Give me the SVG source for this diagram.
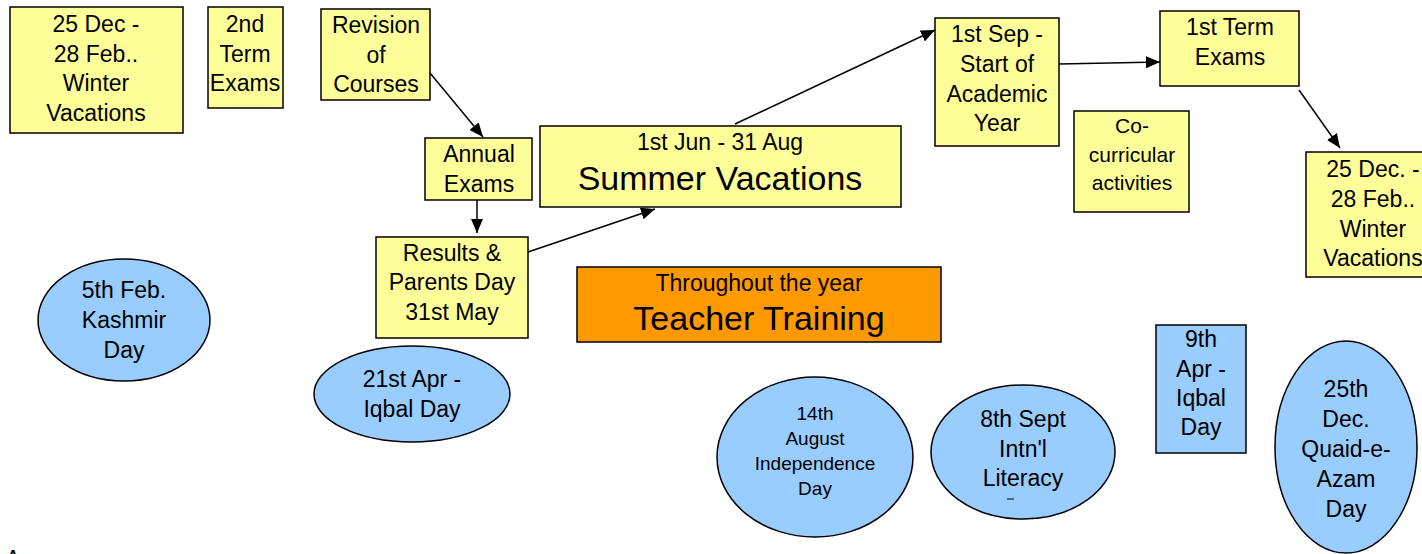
<svg xmlns="http://www.w3.org/2000/svg" width="1422" height="554" viewBox="0 0 1422 554">
<defs>
<style>
text{font-family:"Liberation Sans",Arial,sans-serif;font-size:23px;fill:#000;text-anchor:middle}
.y{fill:#FFFF99;stroke:#000;stroke-width:1.5}
.b{fill:#99CCFF;stroke:#000;stroke-width:1.5}
.o{fill:#FF9900;stroke:#000;stroke-width:1.5}
.big{font-size:34px}
.s{font-size:21px}
.t{font-size:19px}
.c{stroke:#000;stroke-width:1.5;fill:none;marker-end:url(#ah)}
</style>
<marker id="ah" viewBox="0 0 14 12" refX="14" refY="6" markerWidth="14" markerHeight="12" markerUnits="userSpaceOnUse" orient="auto">
<path d="M0,0 L14,6 L0,12 z" fill="#000"/>
</marker>
</defs>
<rect width="1422" height="554" fill="#fff"/>

<g id="winter1">
<rect class="y" x="10" y="7" width="173" height="126"/>
<text x="96" y="32">25 Dec -</text>
<text x="96" y="62">28 Feb..</text>
<text x="96" y="91">Winter</text>
<text x="96" y="121">Vacations</text>
</g>
<g id="term2">
<rect class="y" x="208" y="7" width="75" height="101"/>
<text x="245" y="32">2nd</text>
<text x="245" y="62">Term</text>
<text x="245" y="91">Exams</text>
</g>
<g id="revision">
<rect class="y" x="321" y="9" width="109" height="91"/>
<text x="376" y="33">Revision</text>
<text x="376" y="63">of</text>
<text x="376" y="92">Courses</text>
</g>
<g id="annual">
<rect class="y" x="425" y="138" width="107" height="62"/>
<text x="479" y="162">Annual</text>
<text x="479" y="192">Exams</text>
</g>
<g id="results">
<rect class="y" x="376" y="237" width="152" height="101"/>
<text x="452" y="261">Results &amp;</text>
<text x="452" y="290">Parents Day</text>
<text x="452" y="320">31st May</text>
</g>
<g id="summer">
<rect class="y" x="540" y="126" width="361" height="81"/>
<text x="720" y="150">1st Jun - 31 Aug</text>
<text class="big" x="720" y="190">Summer Vacations</text>
</g>
<g id="teacher">
<rect class="o" x="577" y="267" width="364" height="75"/>
<text x="759" y="291">Throughout the year</text>
<text class="big" x="759" y="330">Teacher Training</text>
</g>
<g id="sep1">
<rect class="y" x="935" y="18" width="124" height="128"/>
<text x="997" y="42">1st Sep -</text>
<text x="997" y="72">Start of</text>
<text x="997" y="102">Academic</text>
<text x="997" y="131">Year</text>
</g>
<g id="term1">
<rect class="y" x="1160" y="11" width="139" height="75"/>
<text x="1230" y="35">1st Term</text>
<text x="1230" y="65">Exams</text>
</g>
<g id="cocurricular">
<rect class="y" x="1074" y="111" width="115" height="101"/>
<text class="s" x="1132" y="133">Co-</text>
<text class="s" x="1132" y="162">curricular</text>
<text class="s" x="1132" y="190">activities</text>
</g>
<g id="winter2">
<rect class="y" x="1306" y="152" width="134" height="125"/>
<text x="1373" y="177">25 Dec. -</text>
<text x="1373" y="207">28 Feb..</text>
<text x="1373" y="237">Winter</text>
<text x="1373" y="266">Vacations</text>
</g>
<g id="kashmir">
<ellipse class="b" cx="124" cy="320" rx="86" ry="61"/>
<text x="124" y="298">5th Feb.</text>
<text x="124" y="328">Kashmir</text>
<text x="124" y="358">Day</text>
</g>
<g id="iqbal1">
<ellipse class="b" cx="412" cy="394" rx="98" ry="48"/>
<text x="412" y="387">21st Apr -</text>
<text x="412" y="417">Iqbal Day</text>
</g>
<g id="independence">
<ellipse class="b" cx="815" cy="457" rx="98" ry="80"/>
<text class="t" x="815" y="420">14th</text>
<text class="t" x="815" y="445">August</text>
<text class="t" x="815" y="470">Independence</text>
<text class="t" x="815" y="495">Day</text>
</g>
<g id="literacy">
<ellipse class="b" cx="1023" cy="452" rx="92" ry="67"/>
<text x="1023" y="427">8th Sept</text>
<text x="1023" y="457">Intn'l</text>
<text x="1023" y="486">Literacy</text>
<line x1="1007" y1="499" x2="1014" y2="499" stroke="#000" stroke-width="1"/>
</g>
<g id="iqbal2">
<rect class="b" x="1156" y="325" width="90" height="128"/>
<text x="1201" y="347">9th</text>
<text x="1201" y="377">Apr -</text>
<text x="1201" y="406">Iqbal</text>
<text x="1201" y="435">Day</text>
</g>
<g id="quaid">
<ellipse class="b" cx="1346" cy="447" rx="71" ry="106"/>
<text x="1346" y="397">25th</text>
<text x="1346" y="427">Dec.</text>
<text x="1346" y="457">Quaid-e-</text>
<text x="1346" y="487">Azam</text>
<text x="1346" y="517">Day</text>
</g>
<text x="13" y="567">A</text>

<g id="connectors">
<line class="c" x1="430" y1="73" x2="483" y2="137"/>
<line class="c" x1="477" y1="200" x2="477" y2="233"/>
<line class="c" x1="528" y1="252" x2="655" y2="209"/>
<line class="c" x1="735" y1="124" x2="935" y2="30"/>
<line class="c" x1="1059" y1="64" x2="1160" y2="62"/>
<line class="c" x1="1299" y1="90" x2="1340" y2="148"/>
</g>
</svg>
